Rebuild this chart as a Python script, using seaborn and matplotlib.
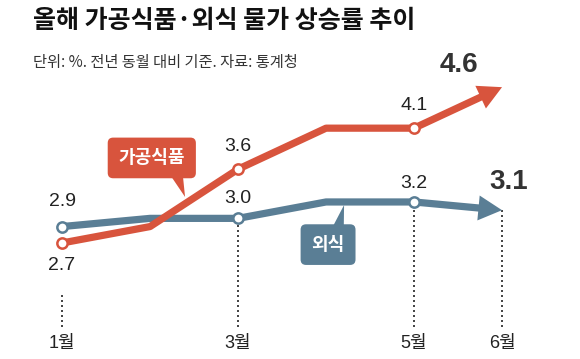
import matplotlib
matplotlib.use('Agg')
import matplotlib.pyplot as plt
import seaborn as sns
import pandas as pd

# data
months = [1, 2, 3, 4, 5, 6]
processed_food = [2.7, 2.9, 3.6, 4.1, 4.1, 4.6]
eating_out = [2.9, 3.0, 3.0, 3.2, 3.2, 3.1]
tick_months = [1, 3, 5, 6]
tick_labels = ['1월', '3월', '5월', '6월']

RED = '#d8543d'
BLUE = '#5a7e95'
TXT = '#222222'
NUM_FONT = ['Liberation Sans', 'Noto Sans CJK KR']
KR_FONT = ['Noto Sans CJK KR', 'DejaVu Sans']

sns.set_theme(style='white')
plt.rcParams['font.family'] = KR_FONT

df = pd.DataFrame({'month': months, 'food': processed_food, 'out': eating_out})
labeled = df[df['month'].isin([1, 3, 5])]

fig = plt.figure(figsize=(5.8, 3.59), dpi=100)
ax = fig.add_axes([0, 0, 1, 1])
ax.set_xlim(0.295, 6.886)
ax.set_ylim(1.285, 5.663)
ax.axis('off')

# dotted guides under the month labels
tops = [2.10] + [min(df.loc[df['month'] == m, ['food', 'out']].values[0]) for m in tick_months[1:]]
tops[-1] = eating_out[-1]
ax.vlines(tick_months, 1.676, tops, colors='#222222', linestyles=(0, (1.2, 1.8)), lw=1.2, zorder=1)

# lines (up to May) + arrow for the last segment
for col, color, z in [('out', BLUE, 2), ('food', RED, 3)]:
    sns.lineplot(data=df[df['month'] <= 5], x='month', y=col, color=color, lw=5.2,
                 ax=ax, zorder=z, solid_joinstyle='round', solid_capstyle='butt')
    ax.annotate('', xy=(6, df[col].iloc[-1]), xytext=(5, df[col].iloc[-2]),
                arrowprops=dict(arrowstyle='simple,head_length=0.85,head_width=0.9,tail_width=0.26',
                                mutation_scale=20, fc=color, ec='none', lw=0,
                                shrinkA=0, shrinkB=0), zorder=z)
    sns.scatterplot(data=labeled, x='month', y=col, s=55, color='white', edgecolor=color,
                    linewidth=1.8, ax=ax, zorder=z + 2, legend=False)

# value labels
num_kw = dict(textcoords='offset points', ha='center', va='center', fontsize=14,
              color=TXT, family=NUM_FONT, zorder=6)
ax.annotate('2.9', (1, eating_out[0]), xytext=(0, 18), **num_kw)
ax.annotate('2.7', (1, processed_food[0]), xytext=(0, -16.5), **num_kw)
ax.annotate('3.6', (3, processed_food[2]), xytext=(0, 16), **num_kw)
ax.annotate('3.0', (3, eating_out[2]), xytext=(0, 14.5), **num_kw)
ax.annotate('4.1', (5, processed_food[4]), xytext=(0, 16.5), **num_kw)
ax.annotate('3.2', (5, eating_out[4]), xytext=(0, 13.5), **num_kw)
big_kw = dict(num_kw, fontsize=20, fontweight='bold', color='#333333')
ax.annotate('4.6', (6, processed_food[5]), xytext=(-31, 16), **big_kw)
ax.annotate('3.1', (6, eating_out[5]), xytext=(5, 20), **big_kw)

# month labels
for m, lab in zip(tick_months, tick_labels):
    ax.text(m, 1.48, lab, ha='center', va='center', fontsize=13, color=TXT,
            family=NUM_FONT)

# callout boxes
ax.annotate('', xy=(2.398, 3.261), xytext=(2.307, 3.53),
            arrowprops=dict(arrowstyle='wedge,tail_width=0.85,shrink_factor=0.5',
                            mutation_scale=10, fc=RED, ec='none', shrinkA=0, shrinkB=0), zorder=4)
ax.text(2.02, 3.737, '가공식품', ha='center', va='center', fontsize=13, color='white',
        fontweight='bold',
        bbox=dict(boxstyle='round,pad=0.6,rounding_size=0.3', fc=RED, ec='none'), zorder=5)
ax.annotate('', xy=(4.205, 3.163), xytext=(4.136, 2.87),
            arrowprops=dict(arrowstyle='wedge,tail_width=0.85,shrink_factor=0.5',
                            mutation_scale=10, fc=BLUE, ec='none', shrinkA=0, shrinkB=0), zorder=4)
ax.text(4.023, 2.68, '외식', ha='center', va='center', fontsize=13, color='white',
        fontweight='bold',
        bbox=dict(boxstyle='round,pad=0.6,rounding_size=0.3', fc=BLUE, ec='none'), zorder=5)

# title and subtitle
fig.text(33 / 580, 1 - 21 / 359, '올해 가공식품·외식 물가 상승률 추이', ha='left', va='center',
         fontsize=18, fontweight='bold', color='#111111')
fig.text(33 / 580, 1 - 62 / 359, '단위: %. 전년 동월 대비 기준. 자료: 통계청', ha='left',
         va='center', fontsize=11, color='#333333')

fig.savefig('out.png', dpi=100)
